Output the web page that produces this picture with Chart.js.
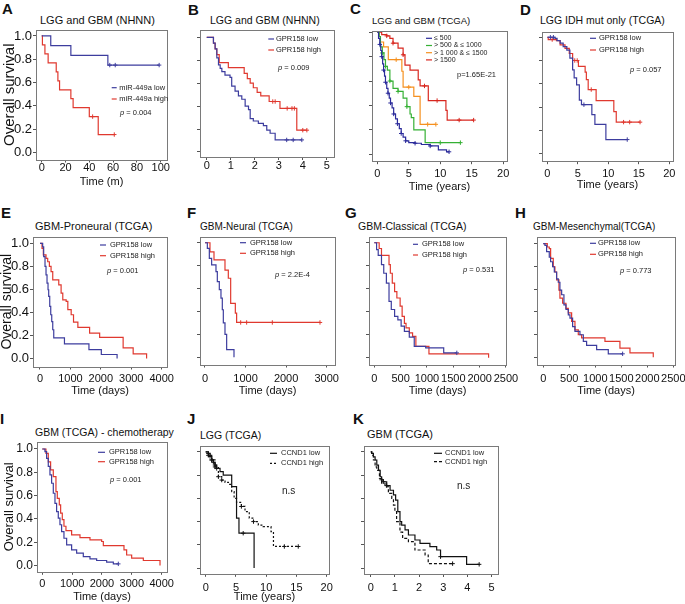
<!DOCTYPE html>
<html>
<head>
<meta charset="utf-8">
<script src="https://cdn.jsdelivr.net/npm/chart.js@4.4.1/dist/chart.umd.min.js"></script>
<style>
body{margin:0;background:#fff;}
#fig{position:relative;width:685px;height:604px;overflow:hidden;font-family:"Liberation Sans",Arial,sans-serif;color:#111;}
#fig canvas{position:absolute;}
.lt{position:absolute;font-weight:bold;font-size:15px;line-height:1;}
.tt{position:absolute;line-height:1;white-space:nowrap;}
</style>
</head>
<body>
<div id="fig"></div>
<script>
// ---- tick labels ----
const survTicks = [0, 0.2, 0.4, 0.6, 0.8, 1.0];
const monthTicks = [0, 20, 40, 60, 80, 100];
const smallYearTicks = [0, 1, 2, 3, 4, 5];
const yearTicks = [0, 5, 10, 15, 20];
const day4kTicks = [0, 1000, 2000, 3000, 4000];
const day3kTicks = [0, 1000, 2000, 3000];
const day25Ticks = [0, 500, 1000, 1500, 2000, 2500];

// ---- A: LGG and GBM (NHNN), miR-449a ----
const aLowT = [0, 7.6, 24.5, 55.6, 57.2, 61.8, 98.7];
const aLowS = [1, 0.917, 0.833, 0.75, 0.75, 0.75, 0.75];
const aLowC = [0, 0, 0, 0, 1, 1, 1];
const aHighT = [0, 0.6, 2.7, 5.4, 12.2, 13.6, 15, 24.5, 26.4, 40, 42.8, 47.5, 61];
const aHighS = [1, 0.923, 0.846, 0.769, 0.692, 0.615, 0.538, 0.462, 0.385, 0.308, 0.308, 0.154, 0.154];
const aHighC = [0, 0, 0, 0, 0, 0, 0, 0, 0, 0, 1, 0, 1];

// ---- B: LGG and GBM (NHNN), GPR158 ----
const bLowT = [0, 0.28, 0.35, 0.42, 0.49, 0.56, 0.63, 0.76, 0.97, 1.04, 1.18, 1.32, 1.46, 1.6, 1.74, 1.81, 1.94, 2.15, 2.36, 2.5, 2.64, 2.85, 3.33, 3.6, 3.96];
const bLowS = [1, 0.95, 0.9, 0.82, 0.76, 0.73, 0.7, 0.67, 0.65, 0.575, 0.53, 0.49, 0.46, 0.4, 0.37, 0.29, 0.27, 0.25, 0.23, 0.19, 0.163, 0.105, 0.105, 0.105, 0.105];
const bLowC = [0, 0, 0, 0, 0, 0, 0, 0, 0, 0, 0, 0, 0, 0, 0, 0, 0, 0, 0, 0, 0, 0, 1, 1, 1];
const bHighT = [0, 0.28, 0.35, 0.42, 0.52, 0.9, 1.56, 1.69, 1.81, 1.94, 2.1, 2.25, 2.6, 2.75, 2.85, 3.05, 3.35, 3.55, 3.65, 3.75, 4.0, 4.17];
const bHighS = [1, 0.95, 0.9, 0.85, 0.78, 0.735, 0.685, 0.64, 0.6, 0.56, 0.52, 0.49, 0.44, 0.44, 0.44, 0.38, 0.38, 0.38, 0.38, 0.19, 0.19, 0.19];
const bHighC = [0, 0, 0, 0, 0, 0, 0, 0, 0, 0, 0, 0, 0, 1, 1, 0, 1, 1, 1, 0, 1, 1];

// ---- C: LGG and GBM (TCGA), four expression groups ----
const c1T = [0, 0.2, 0.4, 0.55, 0.7, 0.85, 1.0, 1.15, 1.3, 1.5, 1.7, 1.9, 2.1, 2.35, 2.6, 2.9, 3.2, 3.5, 3.8, 4.1, 4.5, 5.0, 6.0, 7.0, 8.4, 9.7, 11.0, 11.4];
const c1S = [1, 0.95, 0.9, 0.85, 0.8, 0.74, 0.69, 0.64, 0.59, 0.54, 0.5, 0.46, 0.42, 0.38, 0.33, 0.29, 0.25, 0.21, 0.17, 0.14, 0.11, 0.095, 0.09, 0.08, 0.068, 0.035, 0.02, 0.02];
const c1C = [0, 0, 1, 0, 1, 0, 1, 0, 1, 0, 1, 0, 1, 0, 1, 0, 1, 0, 1, 0, 1, 0, 1, 0, 1, 0, 0, 1];
const c2T = [0, 0.3, 0.5, 0.8, 1.06, 1.3, 1.6, 2.0, 2.5, 3.3, 4.1, 4.7, 5.2, 5.4, 5.8, 7.6, 10.0, 13.2];
const c2S = [1, 0.965, 0.88, 0.83, 0.775, 0.72, 0.69, 0.6, 0.54, 0.515, 0.46, 0.39, 0.33, 0.3, 0.2, 0.095, 0.095, 0.095];
const c2C = [0, 0, 0, 1, 0, 1, 0, 1, 0, 1, 0, 1, 0, 0, 0, 0, 1, 1];
const c3T = [0, 0.3, 0.5, 1.0, 1.75, 3.0, 3.9, 4.1, 5.0, 5.8, 6.8, 8.0, 9.3];
const c3S = [1, 0.965, 0.92, 0.88, 0.775, 0.775, 0.68, 0.55, 0.55, 0.475, 0.245, 0.245, 0.245];
const c3C = [0, 0, 0, 0, 0, 1, 0, 0, 1, 0, 0, 1, 1];
const c4T = [0, 0.7, 1.5, 2.0, 2.5, 3.3, 4.1, 4.4, 5.2, 6.5, 6.8, 7.5, 8.1, 9.5, 10.9, 11.1, 13.0, 15.3];
const c4S = [1, 0.98, 0.97, 0.95, 0.91, 0.87, 0.815, 0.73, 0.69, 0.61, 0.56, 0.56, 0.44, 0.44, 0.36, 0.28, 0.28, 0.28];
const c4C = [0, 0, 1, 0, 1, 0, 1, 0, 0, 0, 0, 1, 0, 1, 0, 0, 1, 1];

// ---- D: LGG IDH mut only (TCGA) ----
const dLowT = [0, 0.5, 1.0, 1.26, 1.6, 2.1, 2.6, 3.2, 3.7, 4.15, 4.4, 4.8, 5.25, 5.6, 6.0, 7.3, 7.8, 9.6, 13.1];
const dLowS = [1, 1, 1, 0.99, 0.97, 0.95, 0.92, 0.89, 0.82, 0.72, 0.65, 0.59, 0.46, 0.42, 0.42, 0.335, 0.25, 0.12, 0.12];
const dLowC = [0, 1, 1, 0, 0, 0, 0, 0, 0, 0, 0, 0, 0, 0, 1, 0, 0, 0, 1];
const dHighT = [0, 0.15, 0.8, 1.5, 2.1, 2.9, 3.6, 4.15, 4.5, 4.9, 5.1, 6.2, 6.4, 6.7, 7.2, 8.0, 10.9, 11.3, 12.5, 13.5, 15.2];
const dHighS = [1, 0.98, 0.98, 0.97, 0.935, 0.905, 0.86, 0.8, 0.8, 0.8, 0.75, 0.7, 0.635, 0.55, 0.55, 0.455, 0.36, 0.27, 0.27, 0.27, 0.27];
const dHighC = [0, 0, 1, 0, 0, 0, 0, 0, 1, 1, 0, 0, 0, 0, 1, 0, 0, 0, 1, 1, 1];

// ---- E: GBM-Proneural ----
const eLowT = [0, 88, 121, 165, 198, 231, 264, 286, 320, 353, 386, 419, 452, 804, 1609, 2016, 2534];
const eLowS = [1, 0.97, 0.885, 0.8, 0.726, 0.654, 0.597, 0.54, 0.452, 0.38, 0.32, 0.25, 0.18, 0.127, 0.078, 0.035, 0];
const eLowC = [0, 0, 0, 0, 0, 0, 0, 0, 0, 0, 0, 0, 0, 0, 0, 0, 0];
const eHighT = [0, 66, 110, 198, 253, 309, 364, 419, 617, 694, 749, 860, 915, 1025, 1102, 1245, 1631, 1961, 2733, 3063, 3504];
const eHighS = [1, 0.957, 0.9, 0.87, 0.84, 0.8, 0.755, 0.683, 0.64, 0.568, 0.51, 0.496, 0.424, 0.38, 0.317, 0.27, 0.22, 0.184, 0.092, 0.04, 0];
const eHighC = [0, 0, 0, 0, 0, 0, 0, 0, 0, 0, 0, 0, 0, 0, 0, 0, 0, 0, 0, 0, 0];

// ---- F: GBM-Neural ----
const fLowT = [0, 58, 107, 164, 271, 304, 353, 394, 427, 452, 493, 534, 715];
const fLowS = [1, 0.95, 0.864, 0.806, 0.748, 0.66, 0.59, 0.516, 0.415, 0.3, 0.2, 0.067, 0];
const fLowC = [0, 0, 0, 0, 0, 0, 0, 0, 0, 0, 0, 0, 0];
const fHighT = [0, 123, 222, 493, 575, 633, 748, 780, 880, 1027, 1660, 2835];
const fHighS = [1, 0.92, 0.85, 0.76, 0.69, 0.47, 0.385, 0.304, 0.304, 0.304, 0.304, 0.304];
const fHighC = [0, 0, 0, 0, 0, 0, 0, 0, 1, 1, 1, 1];

// ---- G: GBM-Classical ----
const gLowT = [0, 44, 75, 137, 180, 230, 280, 323, 386, 448, 510, 572, 665, 759, 976, 1318, 1567];
const gLowS = [1, 0.94, 0.89, 0.81, 0.735, 0.65, 0.49, 0.42, 0.36, 0.33, 0.275, 0.23, 0.18, 0.1, 0.087, 0.043, 0.043];
const gLowC = [0, 0, 0, 0, 0, 0, 0, 0, 0, 0, 0, 0, 0, 0, 0, 0, 1];
const gHighT = [0, 93, 137, 280, 305, 342, 386, 429, 491, 529, 572, 603, 665, 727, 790, 1038, 2170];
const gHighS = [1, 0.95, 0.89, 0.81, 0.735, 0.65, 0.576, 0.52, 0.45, 0.36, 0.3, 0.26, 0.216, 0.187, 0.1, 0.035, 0];
const gHighC = [0, 0, 0, 0, 0, 0, 0, 0, 0, 0, 0, 0, 0, 0, 0, 0, 0];

// ---- H: GBM-Mesenchymal ----
const hLowT = [0, 32, 64, 115, 141, 179, 212, 256, 288, 320, 353, 397, 436, 481, 513, 564, 609, 705, 770, 833, 1026, 1250, 1526];
const hLowS = [1, 0.985, 0.93, 0.88, 0.84, 0.796, 0.75, 0.69, 0.66, 0.59, 0.55, 0.46, 0.42, 0.373, 0.344, 0.27, 0.227, 0.198, 0.14, 0.105, 0.067, 0.03, 0.03];
const hLowC = [0, 0, 0, 0, 0, 0, 0, 0, 0, 0, 0, 0, 0, 0, 0, 0, 0, 0, 0, 0, 0, 0, 1];
const hHighT = [0, 77, 115, 141, 192, 224, 256, 301, 320, 372, 436, 481, 545, 609, 673, 737, 1186, 1474, 1667, 2115];
const hHighS = [1, 0.97, 0.956, 0.87, 0.796, 0.75, 0.68, 0.59, 0.52, 0.475, 0.43, 0.39, 0.315, 0.24, 0.198, 0.17, 0.14, 0.08, 0.038, 0];
const hHighC = [0, 0, 0, 0, 0, 0, 0, 0, 0, 0, 0, 0, 0, 0, 0, 0, 0, 0, 0, 0];

// ---- I: GBM (TCGA) - chemotherapy ----
const iLowT = [0, 89, 145, 201, 257, 313, 369, 425, 480, 536, 592, 648, 726, 816, 983, 1151, 1374, 1598, 1821, 2156, 2380, 2547];
const iLowS = [1, 0.977, 0.92, 0.85, 0.777, 0.706, 0.62, 0.534, 0.463, 0.406, 0.35, 0.29, 0.234, 0.177, 0.134, 0.106, 0.077, 0.057, 0.043, 0.029, 0.014, 0.014];
const iLowC = [0, 0, 0, 0, 0, 0, 0, 0, 0, 0, 0, 0, 0, 0, 0, 0, 0, 0, 0, 0, 0, 1];
const iHighT = [0, 123, 201, 279, 369, 458, 503, 570, 615, 670, 726, 793, 983, 1263, 1598, 1989, 2045, 2737, 2826, 2994, 3385, 3944];
const iHighS = [1, 0.963, 0.89, 0.82, 0.763, 0.634, 0.577, 0.52, 0.45, 0.394, 0.337, 0.3, 0.263, 0.24, 0.22, 0.206, 0.17, 0.134, 0.09, 0.063, 0.043, 0];
const iHighC = [0, 0, 0, 0, 0, 0, 0, 0, 0, 0, 0, 0, 0, 0, 0, 0, 0, 0, 0, 0, 0, 0];

// ---- J: LGG (TCGA), CCND1 ----
const jLowT = [0, 0.44, 0.72, 1.0, 1.27, 1.54, 1.82, 2.37, 2.9, 4.3, 5.1, 5.5, 6.2, 8.0];
const jLowS = [1, 0.986, 0.96, 0.93, 0.91, 0.886, 0.857, 0.83, 0.8, 0.7, 0.43, 0.3, 0.3, 0];
const jLowC = [0, 1, 1, 1, 1, 1, 1, 0, 0, 0, 0, 0, 1, 0];
const jHighT = [0, 0.44, 1.0, 1.54, 2.1, 2.65, 3.2, 3.75, 4.3, 4.7, 5.1, 5.9, 6.5, 7.2, 7.9, 8.7, 9.5, 10.8, 11.2, 13.0, 15.3];
const jHighS = [1, 0.97, 0.93, 0.87, 0.786, 0.757, 0.737, 0.72, 0.657, 0.6, 0.566, 0.53, 0.486, 0.43, 0.4, 0.37, 0.357, 0.314, 0.186, 0.186, 0.186];
const jHighC = [0, 1, 1, 1, 1, 1, 0, 0, 0, 0, 0, 1, 0, 0, 1, 0, 0, 0, 0, 1, 1];

// ---- K: GBM (TCGA), CCND1 ----
const kLowT = [0, 0.04, 0.11, 0.18, 0.25, 0.32, 0.39, 0.45, 0.52, 0.66, 0.8, 0.94, 1.03, 1.12, 1.21, 1.28, 1.42, 1.56, 1.83, 2.04, 2.45, 2.73, 2.89, 3.97, 4.49];
const kLowS = [1, 0.986, 0.957, 0.93, 0.886, 0.84, 0.786, 0.76, 0.743, 0.71, 0.67, 0.63, 0.586, 0.486, 0.4, 0.37, 0.329, 0.286, 0.243, 0.214, 0.186, 0.157, 0.1, 0.034, 0.034];
const kLowC = [0, 0, 0, 0, 0, 0, 0, 1, 1, 1, 0, 0, 0, 0, 0, 0, 0, 0, 0, 0, 0, 0, 1, 0, 1];
const kHighT = [0, 0.04, 0.11, 0.18, 0.25, 0.36, 0.45, 0.59, 0.73, 0.87, 0.94, 1.0, 1.07, 1.21, 1.32, 1.56, 1.76, 1.83, 2.25, 2.38, 3.39];
const kHighS = [1, 0.97, 0.93, 0.87, 0.84, 0.771, 0.73, 0.7, 0.643, 0.6, 0.543, 0.486, 0.4, 0.31, 0.257, 0.229, 0.215, 0.157, 0.114, 0.04, 0.04];
const kHighC = [0, 0, 0, 0, 0, 0, 0, 0, 0, 0, 0, 0, 0, 0, 0, 0, 0, 0, 0, 0, 1];

const FONT = '"Liberation Sans", Arial, sans-serif';
const BLUE = '#3d3d9e', RED = '#e0392f', BLACK = '#111111';
const C_BLUE = '#2b2b9b', C_GREEN = '#35b034', C_ORANGE = '#f5901f', C_RED = '#d8271f';
const FRAME = '#7a7a7a', TICK = '#555555';

function ser(label, t, s, c, color, dash) {
  return {label, t, s, c, color, dash: dash || []};
}

const panels = [
  {letter: 'A', lp: [2, 1], title: 'LGG and GBM (NHNN)', tp: [40, 15, 11],
   box: [36, 30, 167, 160], xr: [-4.8, 105.3], yr: [-0.06, 1.051], xt: monthTicks,
   lw: 36, yls: 13, ytitle: {size: 15, pad: 2.5}, xtitle: 'Time (m)', bh: 27.5, tpad: -1,
   series: [ser('miR-449a low', aLowT, aLowS, aLowC, BLUE), ser('miR-449a high', aHighT, aHighS, aHighC, RED)],
   legend: {x: 75.7, len: 5, tx: 83.3, y: 57.7, dy: 11.3, size: 7.5},
   note: {text: ' = 0.004', italic: true, x: 84, y: 82.7, size: 7.5}},
  {letter: 'B', lp: [188, 2], title: 'LGG and GBM (NHNN)', tp: [210, 15.2, 10.5],
   box: [200, 30, 334, 157], xr: [-0.28, 5.3], yr: [-0.044, 1.064], xt: smallYearTicks,
   lw: 10, yls: 0, ytitle: null, xtitle: '', bh: 20, tpad: -0.5,
   series: [ser('GPR158 low', bLowT, bLowS, bLowC, BLUE), ser('GPR158 high', bHighT, bHighS, bHighC, RED)],
   legend: {x: 68.3, len: 5.7, tx: 76, y: 9, dy: 11, size: 7.5},
   note: {text: ' = 0.009', italic: true, x: 78, y: 38.3, size: 7.5}},
  {letter: 'C', lp: [350, 1], title: 'LGG and GBM (TCGA)', tp: [372, 15.8, 9.5],
   box: [372, 31, 507, 162], xr: [-0.84, 20.6], yr: [-0.057, 1.01], xt: yearTicks,
   lw: 10, yls: 0, ytitle: null, xtitle: 'Time (years)', bh: 30.8, tpad: 3,
   series: [ser('\u2264 500', c1T, c1S, c1C, C_BLUE), ser('> 500 & \u2264 1000', c2T, c2S, c2C, C_GREEN),
            ser('> 1 000 & \u2264 1500', c3T, c3S, c3C, C_ORANGE), ser('> 1500', c4T, c4S, c4C, C_RED)],
   legend: {x: 54, len: 6, tx: 62, y: 7.3, dy: 7.2, size: 7},
   note: {text: 'p=1.65E-21', italic: false, x: 85, y: 44, size: 7.5}},
  {letter: 'D', lp: [520, 2], title: 'LGG IDH mut only (TCGA)', tp: [540, 15.2, 10.5],
   box: [542, 32, 673, 162], xr: [-0.87, 20.6], yr: [-0.066, 1.045], xt: yearTicks,
   lw: 10, yls: 0, ytitle: null, xtitle: 'Time (years)', bh: 28.8, tpad: 3,
   series: [ser('GPR158 low', dLowT, dLowS, dLowC, BLUE), ser('GPR158 high', dHighT, dHighS, dHighC, RED)],
   legend: {x: 48, len: 6, tx: 57, y: 6.3, dy: 11.7, size: 7.5},
   note: {text: ' = 0.057', italic: true, x: 88, y: 38, size: 7.5}},
  {letter: 'E', lp: [1, 205], title: 'GBM-Proneural (TCGA)', tp: [35, 221, 11],
   box: [33, 237, 167, 367], xr: [-230, 4175], yr: [-0.069, 1.055], xt: day4kTicks,
   lw: 33, yls: 13, ytitle: {size: 14, pad: 0}, xtitle: 'Time (days)', bh: 29.5, tpad: 2.5,
   series: [ser('GPR158 low', eLowT, eLowS, eLowC, BLUE), ser('GPR158 high', eHighT, eHighS, eHighC, RED)],
   legend: {x: 67, len: 6, tx: 77, y: 8, dy: 10.7, size: 7.5},
   note: {text: ' = 0.001', italic: true, x: 74, y: 34, size: 7.5}},
  {letter: 'F', lp: [187, 205], title: 'GBM-Neural (TCGA)', tp: [200, 221.7, 10],
   box: [200, 237, 335, 365], xr: [-123, 3205], yr: [-0.063, 1.05], xt: day3kTicks,
   lw: 10, yls: 0, ytitle: null, xtitle: 'Time (days)', bh: 31.5, tpad: 4.8,
   series: [ser('GPR158 low', fLowT, fLowS, fLowC, BLUE), ser('GPR158 high', fHighT, fHighS, fHighC, RED)],
   legend: {x: 40, len: 6, tx: 50, y: 5.7, dy: 10.6, size: 7.5},
   note: {text: ' = 2.2E-4', italic: true, x: 75, y: 38, size: 7.5}},
  {letter: 'G', lp: [345, 205], title: 'GBM-Classical (TCGA)', tp: [358, 221.2, 10.5],
   box: [369, 237, 507, 365], xr: [-100, 2500], yr: [-0.058, 1.05], xt: day25Ticks,
   lw: 10, yls: 0, ytitle: null, xtitle: 'Time (days)', bh: 31.5, tpad: 4.8,
   series: [ser('GPR158 low', gLowT, gLowS, gLowC, BLUE), ser('GPR158 high', gHighT, gHighS, gHighC, RED)],
   legend: {x: 44, len: 5, tx: 53, y: 7.3, dy: 10.7, size: 7.5},
   note: {text: ' = 0.531', italic: true, x: 94, y: 33, size: 7.5}},
  {letter: 'H', lp: [515, 205], title: 'GBM-Mesenchymal(TCGA)', tp: [533, 221.7, 10],
   box: [537, 237, 675, 365], xr: [-121, 2533], yr: [-0.064, 1.058], xt: day25Ticks,
   lw: 10, yls: 0, ytitle: null, xtitle: 'Time (days)', bh: 31.5, tpad: 4.8,
   series: [ser('GPR158 low', hLowT, hLowS, hLowC, BLUE), ser('GPR158 high', hHighT, hHighS, hHighC, RED)],
   legend: {x: 53, len: 6, tx: 61, y: 6.3, dy: 11, size: 7.5},
   note: {text: ' = 0.773', italic: true, x: 83, y: 34, size: 7.5}},
  {letter: 'I', lp: [0, 411], title: 'GBM (TCGA) - chemotherapy', tp: [35, 426.5, 10.5],
   box: [37, 442, 167, 572], xr: [-177, 4178], yr: [-0.054, 1.06], xt: day4kTicks,
   lw: 37, yls: 12, ytitle: {size: 13, pad: 2.8}, xtitle: 'Time (days)', bh: 30.2, tpad: 2.8,
   series: [ser('GPR158 low', iLowT, iLowS, iLowC, BLUE), ser('GPR158 high', iHighT, iHighS, iHighC, RED)],
   legend: {x: 61, len: 7, tx: 72, y: 10.3, dy: 9.4, size: 7.5},
   note: {text: ' = 0.001', italic: true, x: 73, y: 38, size: 7.5}},
  {letter: 'J', lp: [187, 411], title: 'LGG (TCGA)', tp: [200, 429.5, 10.5],
   box: [200, 446, 329, 574], xr: [-0.94, 20.38], yr: [-0.049, 1.05], xt: yearTicks,
   lw: 10, yls: 0, ytitle: null, xtitle: 'Time (years)', bh: 28.2, tpad: 4.2,
   series: [ser('CCND1 low', jLowT, jLowS, jLowC, BLACK), ser('CCND1 high', jHighT, jHighS, jHighC, BLACK, [2, 2])],
   legend: {x: 70, len: 7, tx: 81, y: 7.3, dy: 10, size: 7.5},
   note: {text: 'n.s', italic: false, x: 82, y: 45.7, size: 10}},
  {letter: 'K', lp: [353, 411], title: 'GBM (TCGA)', tp: [367, 429.3, 11],
   box: [364, 446, 498, 574], xr: [-0.28, 5.27], yr: [-0.049, 1.05], xt: smallYearTicks,
   lw: 10, yls: 0, ytitle: null, xtitle: '', bh: 20, tpad: 4.2,
   series: [ser('CCND1 low', kLowT, kLowS, kLowC, BLACK), ser('CCND1 high', kHighT, kHighS, kHighC, BLACK, [3, 2])],
   legend: {x: 70, len: 8, tx: 81, y: 7.3, dy: 8.4, size: 7.5},
   note: {text: 'n.s', italic: false, x: 93, y: 40.7, size: 10}}
];

const fig = document.getElementById('fig');

function drawDecor(chart, p) {
  const ctx = chart.ctx, a = chart.chartArea;
  ctx.save();
  ctx.strokeStyle = FRAME;
  ctx.lineWidth = 1;
  ctx.strokeRect(Math.round(a.left) + 0.5, Math.round(a.top) + 0.5, Math.round(a.right - a.left), Math.round(a.bottom - a.top));
  const L = p.legend;
  ctx.textBaseline = 'middle';
  ctx.fillStyle = '#222';
  ctx.font = L.size + 'px ' + FONT;
  p.series.forEach((s, i) => {
    const y = a.top + L.y + i * L.dy;
    ctx.strokeStyle = s.color;
    ctx.lineWidth = 1.2;
    ctx.setLineDash(s.dash);
    ctx.beginPath();
    ctx.moveTo(a.left + L.x, y);
    ctx.lineTo(a.left + L.x + L.len, y);
    ctx.stroke();
    ctx.setLineDash([]);
    ctx.fillText(s.label, a.left + L.tx, y);
  });
  const n = p.note;
  let x = a.left + n.x;
  const y = a.top + n.y;
  if (n.italic) {
    ctx.font = 'italic ' + n.size + 'px ' + FONT;
    ctx.fillText('p', x, y);
    x += ctx.measureText('p').width;
  }
  ctx.font = n.size + 'px ' + FONT;
  ctx.fillText(n.text, x, y);
  ctx.restore();
}

function makePanel(p) {
  const [l, t, r, b] = p.box;
  const TH = 10, RP = 16;
  const W = p.lw + (r - l) + RP, H = TH + (b - t) + p.bh;

  const lt = document.createElement('div');
  lt.className = 'lt';
  lt.textContent = p.letter;
  lt.style.left = p.lp[0] + 'px';
  lt.style.top = p.lp[1] + 'px';
  fig.appendChild(lt);

  const tt = document.createElement('div');
  tt.className = 'tt';
  tt.textContent = p.title;
  tt.style.left = p.tp[0] + 'px';
  tt.style.top = p.tp[1] + 'px';
  tt.style.fontSize = p.tp[2] + 'px';
  fig.appendChild(tt);

  const cv = document.createElement('canvas');
  cv.width = W;
  cv.height = H;
  cv.style.left = (l - p.lw) + 'px';
  cv.style.top = (t - TH) + 'px';
  fig.appendChild(cv);

  new Chart(cv, {
    type: 'line',
    data: {
      datasets: p.series.map(s => ({
        label: s.label,
        data: s.t.map((x, i) => ({x: x, y: s.s[i]})),
        borderColor: s.color,
        backgroundColor: s.color,
        borderWidth: 1.2,
        borderDash: s.dash,
        stepped: 'before',
        fill: false,
        pointStyle: 'cross',
        pointRadius: s.c.map(c => c ? 2.2 : 0),
        pointBorderWidth: 1,
        pointHoverRadius: 0
      }))
    },
    options: {
      responsive: false,
      animation: false,
      events: [],
      layout: {padding: {left: 0, right: RP, top: TH, bottom: 0}},
      plugins: {legend: {display: false}, tooltip: {enabled: false}, title: {display: false}},
      scales: {
        x: {
          type: 'linear', min: p.xr[0], max: p.xr[1],
          afterFit: s => { s.height = p.bh; },
          afterBuildTicks: s => { s.ticks = p.xt.map(v => ({value: v})); },
          grid: {drawOnChartArea: false, drawTicks: true, tickLength: 3, color: TICK},
          border: {display: false},
          ticks: {font: {family: FONT, size: 11}, color: '#111', padding: p.tpad, maxRotation: 0, autoSkip: false,
                  callback: v => String(v)},
          title: {display: !!p.xtitle, text: p.xtitle, color: '#111', padding: 0,
                  font: {family: FONT, size: 11, lineHeight: 1}}
        },
        y: {
          type: 'linear', min: p.yr[0], max: p.yr[1],
          afterFit: s => { s.width = p.lw; },
          afterBuildTicks: s => { s.ticks = survTicks.map(v => ({value: v})); },
          grid: {drawOnChartArea: false, drawTicks: true, tickLength: 3, color: TICK},
          border: {display: false},
          ticks: {display: p.yls > 0, font: {family: FONT, size: p.yls || 10}, color: '#111', padding: 1,
                  callback: v => v.toFixed(1)},
          title: {display: !!p.ytitle, text: 'Overall survival', color: '#111',
                  padding: {top: p.ytitle ? p.ytitle.pad : 0, bottom: 0},
                  font: {family: FONT, size: p.ytitle ? p.ytitle.size : 10, lineHeight: 1}}
        }
      }
    },
    plugins: [{id: 'decor', afterDraw: chart => drawDecor(chart, p)}]
  });
}

panels.forEach(makePanel);
</script>
</body>
</html>
